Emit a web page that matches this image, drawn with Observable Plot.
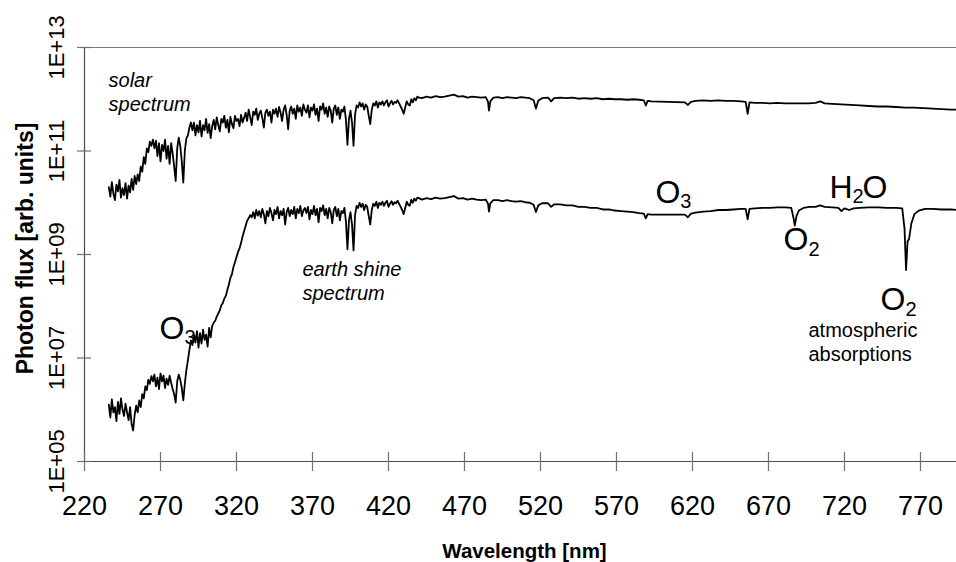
<!DOCTYPE html>
<html>
<head>
<meta charset="utf-8">
<script src="https://cdn.jsdelivr.net/npm/d3@7"></script>
<script src="https://cdn.jsdelivr.net/npm/@observablehq/plot@0.6"></script>
<style>
  html, body { margin: 0; padding: 0; background: #fff; }
  #chart svg { display: block; }
</style>
</head>
<body>
<div id="chart"></div>
<script>
// Axis ticks
const xTicks = [220, 270, 320, 370, 420, 470, 520, 570, 620, 670, 720, 770];
const yTicks = [1e5, 1e7, 1e9, 1e11, 1e13];
const yTickLabels = ["1E+05", "1E+07", "1E+09", "1E+11", "1E+13"];

// UV–blue part of both spectra, sampled every 1 nm from 236 nm to 440 nm (log10 of photon flux)
const uvStart = 236;
const uvStep = 1;
const solarUVLog = [
  10.30, 10.12, 10.40, 10.18, 10.05, 10.35, 10.22, 10.44, 10.10, 10.28, // 236-245
  10.15, 10.38, 10.08, 10.33, 10.20, 10.46, 10.25, 10.52, 10.36, 10.55, // 246-255
  10.42, 10.70, 10.60, 10.88, 10.75, 11.05, 10.98, 11.18, 11.10, 11.22, // 256-265
  11.05, 11.20, 10.90, 11.15, 10.80, 11.12, 11.00, 11.22, 10.85, 11.10, // 266-275
  10.75, 11.15, 10.95, 10.70, 10.42, 11.05, 11.26, 11.10, 10.80, 10.39, // 276-285 (Mg II, Mg I)
  11.00, 11.24, 11.30, 11.45, 11.55, 11.40, 11.55, 11.30, 11.50, 11.36, // 286-295
  11.58, 11.28, 11.50, 11.40, 11.62, 11.35, 11.52, 11.25, 11.48, 11.60, // 296-305
  11.42, 11.65, 11.50, 11.38, 11.62, 11.55, 11.68, 11.45, 11.60, 11.36, // 306-315
  11.66, 11.52, 11.44, 11.68, 11.58, 11.62, 11.48, 11.70, 11.55, 11.64, // 316-325
  11.74, 11.58, 11.80, 11.66, 11.50, 11.76, 11.70, 11.82, 11.60, 11.72, // 326-335
  11.78, 11.64, 11.45, 11.74, 11.80, 11.68, 11.76, 11.55, 11.80, 11.72, // 336-345
  11.82, 11.66, 11.85, 11.74, 11.58, 11.80, 11.88, 11.70, 11.42, 11.78, // 346-355
  11.86, 11.72, 11.82, 11.62, 11.88, 11.76, 11.84, 11.68, 11.90, 11.80, // 356-365
  11.74, 11.88, 11.65, 11.84, 11.78, 11.90, 11.70, 11.82, 11.58, 11.86, // 366-375
  11.80, 11.92, 11.72, 11.84, 11.66, 11.86, 11.78, 11.55, 11.82, 11.88, // 376-385
  11.70, 11.84, 11.62, 11.80, 11.76, 11.86, 11.60, 11.12, 11.62, 11.78, // 386-395 (Ca II K)
  11.55, 11.10, 11.70, 11.88, 11.84, 11.94, 11.86, 11.92, 11.80, 11.90, // 396-405 (Ca II H)
  11.86, 11.68, 11.52, 11.80, 11.92, 11.88, 11.96, 11.84, 11.94, 11.90, // 406-415
  11.96, 11.88, 11.94, 11.98, 11.86, 11.92, 11.97, 11.90, 11.95, 11.93, // 416-425
  11.98, 11.92, 11.86, 11.80, 11.72, 11.84, 11.96, 11.90, 11.88, 12.00, // 426-435 (G band)
  11.94, 12.02, 11.98, 12.05, 12.03                                      // 436-440
];
const earthUVLog = [
  6.10, 5.85, 6.20, 5.95, 6.05, 5.78, 6.15, 5.92, 6.22, 6.00, // 236-245
  5.88, 6.12, 5.95, 5.80, 6.05, 5.72, 5.60, 5.90, 6.08, 5.95, // 246-255
  6.18, 6.05, 6.30, 6.22, 6.45, 6.38, 6.58, 6.50, 6.65, 6.55, // 256-265
  6.68, 6.45, 6.62, 6.40, 6.70, 6.55, 6.66, 6.42, 6.60, 6.48, // 266-275
  6.66, 6.52, 6.40, 6.30, 6.14, 6.55, 6.68, 6.58, 6.42, 6.18, // 276-285
  6.50, 6.76, 6.95, 7.15, 7.34, 7.25, 7.45, 7.30, 7.52, 7.20, // 286-295
  7.48, 7.28, 7.55, 7.35, 7.45, 7.22, 7.58, 7.40, 7.62, 7.68, // 296-305
  7.72, 7.80, 7.86, 7.92, 8.02, 8.06, 8.15, 8.20, 8.32, 8.42, // 306-315 (ozone edge)
  8.55, 8.62, 8.76, 8.85, 8.95, 9.05, 9.12, 9.22, 9.35, 9.45, // 316-325
  9.55, 9.65, 9.70, 9.76, 9.72, 9.82, 9.70, 9.86, 9.75, 9.84, // 326-335
  9.72, 9.88, 9.78, 9.60, 9.84, 9.74, 9.90, 9.80, 9.66, 9.86, // 336-345
  9.78, 9.92, 9.70, 9.84, 9.76, 9.88, 9.58, 9.82, 9.90, 9.74, // 346-355
  9.86, 9.78, 9.92, 9.70, 9.88, 9.80, 9.94, 9.74, 9.85, 9.90, // 356-365
  9.80, 9.92, 9.68, 9.86, 9.78, 9.94, 9.76, 9.88, 9.62, 9.90, // 366-375
  9.84, 9.95, 9.76, 9.88, 9.70, 9.90, 9.82, 9.60, 9.86, 9.92, // 376-385
  9.74, 9.88, 9.66, 9.84, 9.80, 9.90, 9.64, 9.10, 9.66, 9.82, // 386-395
  9.58, 9.08, 9.76, 9.94, 9.90, 10.00, 9.92, 9.98, 9.86, 9.96, // 396-405
  9.92, 9.74, 9.58, 9.86, 9.98, 9.94, 10.02, 9.90, 10.00, 9.96, // 406-415
  10.02, 9.94, 10.00, 10.04, 9.92, 9.98, 10.03, 9.96, 10.01, 9.99, // 416-425
  10.04, 9.98, 9.92, 9.86, 9.78, 9.90, 10.02, 9.96, 9.94, 10.06, // 426-435
  10.00, 10.08, 10.04, 10.10, 10.09                                // 436-440
];

// Visible part: [wavelength nm, log10 photon flux]
const solarVisLog = [
  [442, 12.02], [445, 12.05], [448, 12.03], [451, 12.06], [454, 12.04], [457, 12.05],
  [460, 12.07], [463, 12.09], [466, 12.05], [469, 12.06], [472, 12.03], [475, 12.05],
  [478, 12.04], [481, 12.03], [484, 12.04], [485.5, 11.95], [486.1, 11.78], [487, 11.96],
  [489, 12.03], [492, 12.04], [495, 12.02], [498, 12.04], [501, 12.03], [504, 12.02],
  [507, 12.04], [510, 12.03], [513, 12.02], [515.5, 11.98], [517, 11.82], [518.5, 11.97],
  [521, 12.02], [525, 12.03], [527, 11.96], [529, 12.02], [533, 12.03], [537, 12.02],
  [541, 12.03], [545, 12.01], [549, 12.02], [553, 12.01], [557, 12.02], [561, 12.00],
  [565, 12.01], [569, 12.00], [573, 12.00], [577, 11.99], [581, 12.00], [585, 11.99],
  [588, 11.98], [589.3, 11.88], [590.5, 11.97], [593, 11.96], [615, 11.94], [617, 11.89],
  [619, 11.95], [622, 11.97], [627, 11.98], [632, 11.97], [637, 11.98], [642, 11.97],
  [647, 11.97], [652, 11.96], [655, 11.95], [656.3, 11.72], [657.5, 11.94], [661, 11.93],
  [666, 11.93], [671, 11.92], [676, 11.93], [681, 11.92], [686, 11.92], [691, 11.92],
  [696, 11.92], [701, 11.93], [704, 11.96], [707, 11.92], [712, 11.91], [718, 11.90],
  [724, 11.89], [730, 11.88], [736, 11.87], [742, 11.86], [748, 11.86], [754, 11.85],
  [760, 11.84], [766, 11.84], [772, 11.83], [778, 11.82], [784, 11.81], [790, 11.80],
  [794, 11.80]
];
const earthVisLog = [
  [442, 10.06], [445, 10.09], [448, 10.07], [451, 10.10], [454, 10.08], [457, 10.09],
  [460, 10.11], [463, 10.13], [466, 10.08], [469, 10.09], [472, 10.06], [475, 10.08],
  [478, 10.06], [481, 10.05], [484, 10.06], [485.5, 9.98], [486.1, 9.83], [487, 9.99],
  [489, 10.05], [492, 10.05], [495, 10.03], [498, 10.05], [501, 10.03], [504, 10.02],
  [507, 10.03], [510, 10.01], [513, 10.00], [515.5, 9.96], [517, 9.82], [518.5, 9.95],
  [521, 9.99], [525, 9.99], [527, 9.92], [529, 9.97], [533, 9.97], [537, 9.95],
  [541, 9.95], [545, 9.92], [549, 9.92], [553, 9.90], [557, 9.90], [561, 9.87],
  [565, 9.87], [569, 9.85], [573, 9.84], [577, 9.83], [581, 9.82], [585, 9.80],
  [588, 9.79], [589.3, 9.70], [590.5, 9.78], [593, 9.77], [615, 9.77], [617, 9.72],
  [619, 9.79], [622, 9.81], [627, 9.83], [632, 9.84], [637, 9.86], [642, 9.86],
  [647, 9.87], [652, 9.88], [655, 9.88], [656.3, 9.68], [657.5, 9.88], [661, 9.89],
  [666, 9.90], [671, 9.90], [676, 9.91], [681, 9.91], [685, 9.90], [686.5, 9.70],
  [687.3, 9.56], [688.5, 9.75], [690, 9.85], [693, 9.90], [697, 9.92], [701, 9.92],
  [704, 9.95], [707, 9.92], [712, 9.91], [716, 9.90], [718, 9.84], [720, 9.89],
  [723, 9.86], [726, 9.89], [730, 9.90], [736, 9.91], [742, 9.91], [748, 9.90],
  [754, 9.90], [758, 9.89], [759.5, 9.50], [760.5, 8.70], [761.5, 9.25], [762.5, 9.30],
  [764, 9.60], [766, 9.78], [769, 9.85], [773, 9.88], [778, 9.88], [784, 9.87],
  [790, 9.87], [794, 9.86]
];

function toRows(uvLog, visLog) {
  return [
    ...uvLog.map((v, i) => ({lambda: uvStart + i * uvStep, flux: 10 ** v})),
    ...visLog.map(([l, v]) => ({lambda: l, flux: 10 ** v}))
  ];
}
const solar = toRows(solarUVLog, solarVisLog);
const earth = toRows(earthUVLog, earthVisLog);

// Annotations: spectrum names (italic), absorption note, chemical formulas (letters + subscripts)
const spectrumNames = [
  {lambda: 235.8, flux: 10 ** 11.78, text: "solar\nspectrum"},
  {lambda: 363.4, flux: 10 ** 8.13, text: "earth shine\nspectrum"}
];
const absorptionNote = [
  {lambda: 696.3, flux: 10 ** 6.95, text: "atmospheric\nabsorptions"}
];
const formulaMain = [
  {lambda: 285.8, flux: 10 ** 7.36, text: "O"},
  {lambda: 612.0, flux: 10 ** 10.00, text: "O"},
  {lambda: 696.3, flux: 10 ** 9.08, text: "O"},
  {lambda: 725.3, flux: 10 ** 10.10, text: "H"},
  {lambda: 760.1, flux: 10 ** 7.92, text: "O"}
];
const formulaSub = [
  {lambda: 285.8, flux: 10 ** 7.28, text: "3"},
  {lambda: 612.0, flux: 10 ** 9.90, text: "3"},
  {lambda: 696.3, flux: 10 ** 8.98, text: "2"},
  {lambda: 725.3, flux: 10 ** 10.00, text: "2"},
  {lambda: 760.1, flux: 10 ** 7.82, text: "2"}
];
const formulaTail = [
  {lambda: 731.8, flux: 10 ** 10.10, text: "O"}
];

const font = "'Liberation Sans', Arial, Helvetica, sans-serif";

const chart = Plot.plot({
  width: 956,
  height: 562,
  marginLeft: 84,
  marginRight: 0,
  marginTop: 47,
  marginBottom: 101,
  x: {domain: [220, 793.7], axis: null},
  y: {type: "log", domain: [1e5, 1e13], axis: null},
  style: {fontFamily: font, background: "#fff", color: "#000", overflow: "visible"},
  marks: [
    // frame lines
    Plot.ruleY([1e13], {stroke: "#7a7a7a", strokeWidth: 1.2, insetLeft: -7}),
    Plot.ruleY([1e5], {stroke: "#4d4d4d", strokeWidth: 1.2, insetLeft: -7}),
    Plot.ruleX([220], {stroke: "#4d4d4d", strokeWidth: 1.2}),
    // tick marks crossing the axes
    Plot.axisX(xTicks, {tickSize: 19, insetBottom: 9, stroke: "#707070", strokeWidth: 1.2, fill: "none", label: null}),
    Plot.axisY(yTicks, {tickSize: 14, insetLeft: 7, stroke: "#707070", strokeWidth: 1.2, fill: "none", label: null}),
    // tick labels
    Plot.axisX(xTicks, {tickSize: 0, tickPadding: 34, stroke: "none", fill: "#000", fontSize: 27, label: null, tickFormat: d => String(d)}),
    Plot.text(yTicks, {y: d => d, text: (d, i) => yTickLabels[i], frameAnchor: "left", dx: -21, rotate: -90,
      textAnchor: "middle", lineAnchor: "bottom", fontSize: 22, fill: "#000"}),
    // axis titles
    Plot.text(["Wavelength [nm]"], {text: d => d, frameAnchor: "bottom", dy: 96, dx: 4, lineAnchor: "bottom",
      fontSize: 20.5, fontWeight: "bold", fill: "#000"}),
    Plot.text(["Photon flux [arb. units]"], {text: d => d, frameAnchor: "left", dx: -52, dy: -6, rotate: -90,
      textAnchor: "middle", lineAnchor: "bottom", fontSize: 23, fontWeight: "bold", fill: "#000"}),
    // spectra
    Plot.lineY(solar, {x: "lambda", y: "flux", stroke: "#000", strokeWidth: 1.8, strokeLinejoin: "round"}),
    Plot.lineY(earth, {x: "lambda", y: "flux", stroke: "#000", strokeWidth: 1.8, strokeLinejoin: "round"}),
    // annotations
    Plot.text(spectrumNames, {x: "lambda", y: "flux", text: "text", fontStyle: "italic", textAnchor: "start",
      lineAnchor: "bottom", lineHeight: 1.2, fontSize: 20, fill: "#000"}),
    Plot.text(absorptionNote, {x: "lambda", y: "flux", text: "text", textAnchor: "start",
      lineAnchor: "bottom", lineHeight: 1.2, fontSize: 20, fill: "#000"}),
    Plot.text(formulaMain, {x: "lambda", y: "flux", text: "text", textAnchor: "end", lineAnchor: "bottom", fontSize: 32, fill: "#000"}),
    Plot.text(formulaSub, {x: "lambda", y: "flux", text: "text", textAnchor: "start", lineAnchor: "bottom", fontSize: 20, fill: "#000"}),
    Plot.text(formulaTail, {x: "lambda", y: "flux", text: "text", textAnchor: "start", lineAnchor: "bottom", fontSize: 32, fill: "#000"})
  ]
});

document.getElementById("chart").appendChild(chart);
</script>
</body>
</html>
